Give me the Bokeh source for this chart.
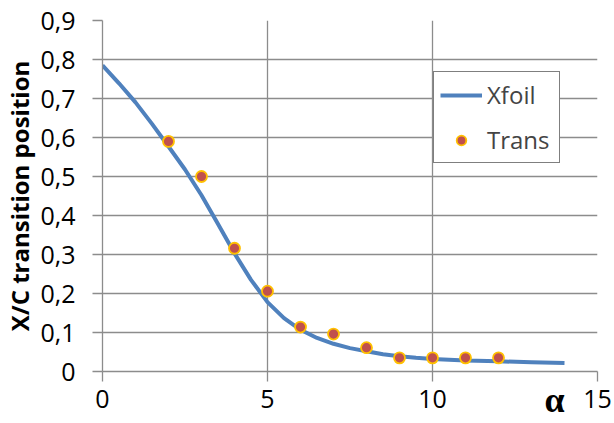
from bokeh.plotting import figure
from bokeh.models import FixedTicker, Range1d, Legend, LegendItem, LinearAxis
from bokeh.embed import file_html
from bokeh.resources import INLINE

# Xfoil transition curve (angle of attack vs x/c)
alpha_xfoil = [0, 0.5, 1, 1.5, 2, 2.5, 3, 3.5, 4, 4.5, 5, 5.5, 6, 6.5, 7,
               7.5, 8, 8.5, 9, 9.5, 10, 11, 12, 13, 14]
xc_xfoil = [0.785, 0.739, 0.690, 0.635, 0.577, 0.518, 0.452, 0.378, 0.303,
            0.235, 0.178, 0.137, 0.107, 0.086, 0.071, 0.060, 0.052, 0.044,
            0.039, 0.035, 0.032, 0.028, 0.026, 0.024, 0.022]

# Trans model points
alpha_trans = [2, 3, 4, 5, 6, 7, 8, 9, 10, 11, 12]
xc_trans = [0.59, 0.50, 0.316, 0.206, 0.114, 0.096, 0.061, 0.035, 0.035,
            0.035, 0.035]

x_ticks = [0, 5, 10, 15]
x_tick_labels = ["0", "5", "10", "15"]
y_ticks = [0, 0.1, 0.2, 0.3, 0.4, 0.5, 0.6, 0.7, 0.8, 0.9]
y_tick_labels = ["0", "0,1", "0,2", "0,3", "0,4", "0,5", "0,6", "0,7", "0,8", "0,9"]
alpha_symbol_at = 13.7
alpha_symbol = "α"

FONT = "Open Sans"
GRID = "#8c8c8c"

p = figure(width=614, height=423, output_backend="svg", toolbar_location=None,
           x_range=Range1d(0, 15), y_range=Range1d(0, 0.9),
           min_border_left=102, min_border_right=17,
           min_border_top=20, min_border_bottom=52)
p.outline_line_color = None
p.background_fill_color = "white"
p.border_fill_color = "white"

# grid
p.xgrid.ticker = FixedTicker(ticks=x_ticks)
p.ygrid.ticker = FixedTicker(ticks=y_ticks)
for g in (p.xgrid[0], p.ygrid[0]):
    g.grid_line_color = GRID
    g.grid_line_width = 1.3

# axes
xa = p.xaxis[0]
ya = p.yaxis[0]
xa.ticker = FixedTicker(ticks=x_ticks)
ya.ticker = FixedTicker(ticks=y_ticks)
xa.major_label_overrides = dict(zip(x_ticks, x_tick_labels))
ya.major_label_overrides = dict(zip(y_ticks, y_tick_labels))
for ax in (xa, ya):
    ax.axis_line_color = GRID
    ax.axis_line_width = 1.3
    ax.major_tick_line_color = GRID
    ax.major_tick_line_width = 1.3
    ax.major_tick_out = 10
    ax.major_tick_in = 0
    ax.minor_tick_line_color = None
    ax.major_label_text_font = FONT
    ax.major_label_text_font_size = "25px"
    ax.major_label_text_color = "black"
xa.major_label_standoff = 8
ya.major_label_standoff = 17

ya.axis_label = "X/C transition position"
ya.axis_label_text_font = FONT
ya.axis_label_text_font_style = "bold"
ya.axis_label_text_font_size = "24px"
ya.axis_label_text_color = "black"
ya.axis_label_standoff = 1

# x-axis symbol: a bare axis carrying only the alpha glyph, pulled up
# onto the row of the tick labels
alpha_axis = LinearAxis(ticker=FixedTicker(ticks=[alpha_symbol_at]),
                        major_label_overrides={alpha_symbol_at: alpha_symbol},
                        axis_line_color=None, major_tick_line_color=None,
                        minor_tick_line_color=None,
                        major_tick_out=0, major_tick_in=0,
                        major_label_standoff=-31,
                        major_label_text_font="Liberation Serif",
                        major_label_text_font_style="bold",
                        major_label_text_font_size="36px",
                        major_label_text_color="black")
p.add_layout(alpha_axis, "below")

# data
line_r = p.line(alpha_xfoil, xc_xfoil, line_color="#4F81BD", line_width=4)
pts_r = p.scatter(alpha_trans, xc_trans, size=11, fill_color="#C0504D",
                  line_color="#FFC000", line_width=1.8)

legend = Legend(items=[LegendItem(label="Xfoil", renderers=[line_r]),
                       LegendItem(label="Trans", renderers=[pts_r])],
                location=(331, 208), orientation="vertical",
                glyph_width=42, glyph_height=24, label_height=24,
                label_width=66, spacing=12, padding=6, margin=0,
                label_standoff=5,
                label_text_font=FONT, label_text_font_size="24px",
                border_line_color="black", border_line_width=1.2,
                background_fill_color="white", background_fill_alpha=1)
p.add_layout(legend)

open("out.html", "w").write(file_html(p, INLINE))
